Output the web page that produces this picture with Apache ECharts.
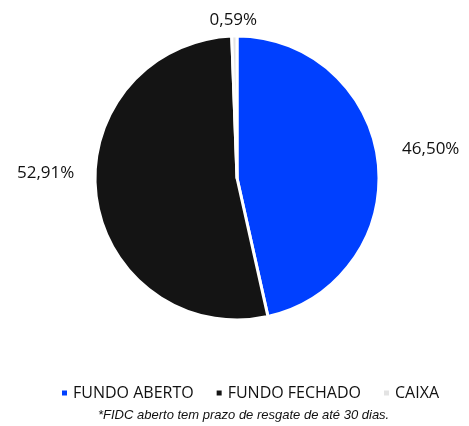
<!DOCTYPE html>
<html>
<head>
<meta charset="utf-8">
<script src="https://cdn.jsdelivr.net/npm/echarts@6/dist/echarts.min.js"></script>
<style>
  html, body { margin: 0; padding: 0; background: #fff; }
  #chart { width: 469px; height: 426px; }
</style>
</head>
<body>
<div id="chart"></div>
<script>
const categories = ['FUNDO ABERTO', 'FUNDO FECHADO', 'CAIXA']
const values = [46.50, 52.91, 0.59]
const colors = ['#0040ff', '#141414', '#e3e3e3']
const footnote = '*FIDC aberto tem prazo de resgate de até 30 dias.'

const chart = echarts.init(document.getElementById('chart'))

// nudge labels to where the original puts them
const labelShift = [[7, -12], [-5, -25], [28, -4]]

chart.setOption({
  animation: false,
  title: {
    text: footnote,
    left: 93,
    top: 404,
    textStyle: {
      fontFamily: 'Liberation Sans',
      fontSize: 13,
      fontStyle: 'italic',
      fontWeight: 'normal',
      color: '#111'
    }
  },
  legend: {
    top: 380,
    left: 55,
    icon: 'rect',
    itemWidth: 7,
    itemHeight: 7,
    itemGap: 21,
    textStyle: {
      fontFamily: 'Open Sans',
      fontSize: 16,
      color: '#111'
    },
    data: categories
  },
  series: [
    {
      type: 'pie',
      radius: 142,
      center: [237, 178],
      startAngle: 90,
      clockwise: true,
      itemStyle: {
        borderColor: '#fff',
        borderWidth: 3
      },
      label: {
        show: true,
        position: 'outside',
        formatter: p => p.value.toFixed(2).replace('.', ',') + '%',
        fontFamily: 'Open Sans',
        fontSize: 17,
        color: '#111'
      },
      labelLine: {
        show: false,
        length: 12,
        length2: 0
      },
      labelLayout: p => ({ dx: labelShift[p.dataIndex][0], dy: labelShift[p.dataIndex][1] }),
      data: categories.map((name, i) => ({
        name: name,
        value: values[i],
        itemStyle: { color: colors[i] }
      }))
    }
  ]
})
</script>
</body>
</html>
